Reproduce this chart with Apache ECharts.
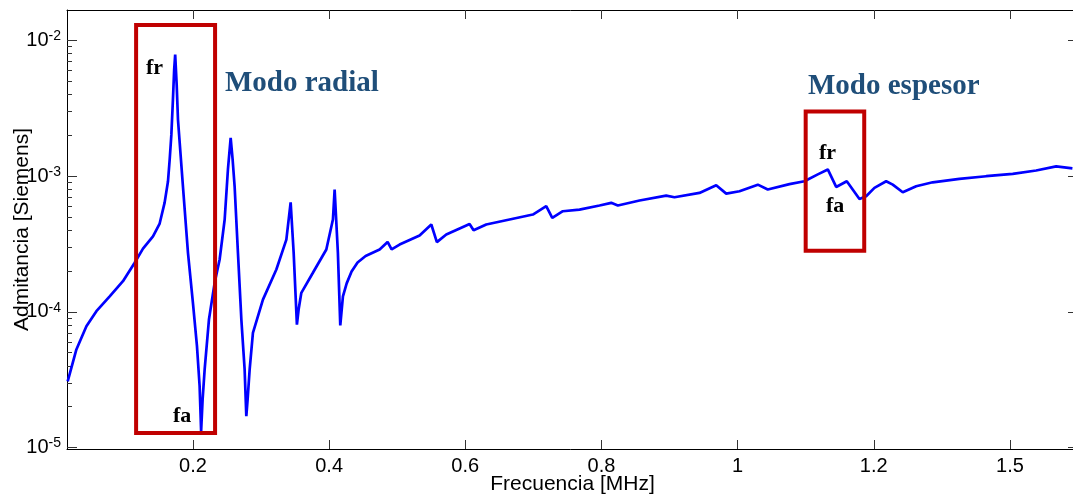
<!DOCTYPE html>
<html>
<head>
<meta charset="utf-8">
<title>Admitancia vs Frecuencia</title>
<script src="https://cdn.jsdelivr.net/npm/echarts@6/dist/echarts.min.js"></script>
<style>
  html, body { margin: 0; padding: 0; background: #fff; }
  #chart { width: 1073px; height: 496px; }
</style>
</head>
<body>
<div id="chart"></div>
<script>
// Measured admittance magnitude of the piezoelectric disc
const freqMHz = [
  0.016, 0.0288, 0.0435, 0.0582, 0.0777, 0.0972, 0.1144, 0.1266, 0.1413, 0.1511,
  0.1584, 0.1633, 0.1658, 0.1683, 0.1706, 0.1724, 0.1739, 0.1761, 0.1780, 0.1853,
  0.1927, 0.2000, 0.2059, 0.2098, 0.2120, 0.2142, 0.2172, 0.2235, 0.2319, 0.2392,
  0.2466, 0.2514, 0.2554, 0.2583, 0.2612, 0.2661, 0.2711, 0.2759, 0.2784, 0.2803,
  0.2833, 0.2881, 0.3028, 0.3225, 0.3372, 0.3435, 0.3479, 0.3527, 0.3552, 0.3592,
  0.3762, 0.3959, 0.4056, 0.4081, 0.4129, 0.4164, 0.4203, 0.4258, 0.4330, 0.4418,
  0.4536, 0.4742, 0.4859, 0.4918, 0.5035, 0.5329, 0.5501, 0.5583, 0.5721, 0.6015,
  0.6063, 0.6122, 0.6308, 0.6651, 0.6993, 0.7189, 0.7278, 0.7433, 0.7678, 0.7972,
  0.8144, 0.8241, 0.8560, 0.8951, 0.9073, 0.9440, 0.9686, 0.9833, 1.0028, 1.0297,
  1.0443, 1.0762, 1.0982, 1.1178, 1.1325, 1.1448, 1.1604, 1.1790, 1.1888, 1.2010,
  1.2182, 1.2279, 1.2426, 1.2623, 1.2866, 1.3258, 1.3651, 1.4041, 1.4385, 1.4679,
  1.4918
];
const admitanciaS = [
  3.07e-5, 5.28e-5, 7.83e-5, 1.01e-4, 1.30e-4, 1.68e-4, 2.30e-4, 2.92e-4, 3.60e-4, 4.47e-4,
  6.38e-4, 9.12e-4, 1.32e-3, 2.02e-3, 3.66e-3, 6.08e-3, 7.85e-3, 4.72e-3, 2.61e-3, 8.41e-4,
  2.72e-4, 1.16e-4, 5.58e-5, 2.83e-5, 1.32e-5, 2.26e-5, 3.76e-5, 8.77e-5, 1.64e-4, 2.43e-4,
  4.79e-4, 1.12e-3, 1.91e-3, 1.32e-3, 8.41e-4, 2.72e-4, 8.77e-5, 3.76e-5, 1.70e-5, 2.26e-5,
  3.76e-5, 7.00e-5, 1.23e-4, 2.05e-4, 3.40e-4, 6.41e-4, 2.74e-4, 8.05e-5, 1.04e-4, 1.38e-4,
  1.94e-4, 2.88e-4, 4.79e-4, 7.96e-4, 2.72e-4, 7.93e-5, 1.30e-4, 1.62e-4, 1.98e-4, 2.31e-4,
  2.58e-4, 2.88e-4, 3.27e-4, 2.88e-4, 3.13e-4, 3.65e-4, 4.40e-4, 3.26e-4, 3.71e-4, 4.33e-4,
  4.44e-4, 3.99e-4, 4.40e-4, 4.79e-4, 5.21e-4, 6.00e-4, 4.92e-4, 5.51e-4, 5.66e-4, 6.07e-4,
  6.35e-4, 6.07e-4, 6.61e-4, 7.18e-4, 6.98e-4, 7.52e-4, 8.55e-4, 7.43e-4, 7.73e-4, 8.65e-4,
  7.96e-4, 8.73e-4, 9.16e-4, 1.03e-3, 1.12e-3, 8.32e-4, 9.16e-4, 6.79e-4, 7.10e-4, 8.19e-4,
  9.16e-4, 8.65e-4, 7.60e-4, 8.41e-4, 9.00e-4, 9.53e-4, 9.98e-4, 1.04e-3, 1.10e-3, 1.18e-3,
  1.14e-3
];

// Axis ticks
const xTickValues = [0.2, 0.4, 0.6, 0.8, 1.0, 1.2, 1.4];
const xTickLabels = ['0.2', '0.4', '0.6', '0.8', '1', '1.2', '1.5'];
const yMajorTicks = [1e-5, 1e-4, 1e-3, 1e-2];
const yMinorTicks = [];
for (let e = -5; e <= -3; e++) {
  for (let m = 2; m <= 9; m++) yMinorTicks.push(+(m * Math.pow(10, e)).toPrecision(3));
}

// Highlighted regions: [xFrom, xTo, yFrom, yTo]
const boxRadial = [0.1165, 0.2325, 1.28e-5, 1.30e-2];
const boxEspesor = [1.100, 1.186, 2.82e-4, 2.99e-3];

const X_MIN = 0.015, X_MAX = 1.5;
const Y_MIN = Math.pow(10, -5.011), Y_MAX = Math.pow(10, -1.776);

const SANS = '"Liberation Sans", Arial, sans-serif';
const SERIF = '"Liberation Serif", "Times New Roman", serif';

const chart = echarts.init(document.getElementById('chart'), null, { renderer: 'canvas' });

const tickStyle = { color: '#333', width: 1 };
const axisLineStyle = { color: '#000', width: 1 };

function boxArea(b) {
  return [{ coord: [b[0], b[3]] }, { coord: [b[1], b[2]] }];
}

chart.setOption({
  animation: false,
  backgroundColor: '#fff',
  grid: { left: 67, top: 10, width: 1011, height: 439, containLabel: false, outerBoundsMode: 'none' },
  xAxis: [
    {
      type: 'value', position: 'bottom', min: X_MIN, max: X_MAX,
      name: 'Frecuencia [MHz]', nameLocation: 'middle', nameGap: 25, nameMoveOverlap: false,
      nameTextStyle: { fontFamily: SANS, fontSize: 21, color: '#000' },
      axisLine: { show: true, lineStyle: axisLineStyle },
      axisTick: { show: true, inside: true, length: 9, lineStyle: tickStyle, customValues: xTickValues },
      axisLabel: {
        show: true, margin: 7, fontFamily: SANS, fontSize: 20, color: '#000',
        customValues: xTickValues,
        formatter: v => {
          const i = xTickValues.findIndex(t => Math.abs(t - v) < 1e-6);
          return i >= 0 ? xTickLabels[i] : '';
        }
      },
      splitLine: { show: false }
    },
    {
      type: 'value', position: 'top', min: X_MIN, max: X_MAX,
      axisLine: { show: true, lineStyle: axisLineStyle },
      axisTick: { show: true, inside: true, length: 9, lineStyle: tickStyle, customValues: xTickValues },
      axisLabel: { show: false },
      splitLine: { show: false }
    }
  ],
  yAxis: [
    {
      type: 'log', logBase: 10, position: 'left', min: Y_MIN, max: Y_MAX,
      name: 'Admitancia [Siemens]', nameLocation: 'middle', nameGap: 34, nameMoveOverlap: false,
      nameTextStyle: { fontFamily: SANS, fontSize: 21, color: '#000' },
      axisLine: { show: true, lineStyle: axisLineStyle },
      axisTick: { show: true, inside: true, length: 10, lineStyle: tickStyle, customValues: yMajorTicks },
      axisLabel: {
        show: true, margin: 6, customValues: yMajorTicks,
        formatter: v => '{b|10}{s|' + Math.round(Math.log10(v)) + '}',
        rich: {
          b: { fontFamily: SANS, fontSize: 20, color: '#000', lineHeight: 22 },
          s: { fontFamily: SANS, fontSize: 14, color: '#000', verticalAlign: 'top', padding: [0, 0, 5, 0] }
        }
      },
      splitLine: { show: false }
    },
    {
      type: 'log', logBase: 10, position: 'right', min: Y_MIN, max: Y_MAX,
      axisLine: { show: true, lineStyle: axisLineStyle },
      axisTick: { show: true, inside: true, length: 10, lineStyle: tickStyle, customValues: yMajorTicks },
      axisLabel: { show: false },
      splitLine: { show: false }
    },
    {
      type: 'log', logBase: 10, position: 'left', min: Y_MIN, max: Y_MAX,
      axisLine: { show: false },
      axisTick: { show: true, inside: true, length: 5, lineStyle: tickStyle, customValues: yMinorTicks },
      axisLabel: { show: false },
      splitLine: { show: false }
    }
  ],
  series: [
    {
      type: 'line',
      xAxisIndex: 0, yAxisIndex: 0,
      data: freqMHz.map((f, i) => [f, admitanciaS[i]]),
      showSymbol: false, symbol: 'none', smooth: false,
      lineStyle: { color: '#0000FF', width: 2.7 },
      z: 2,
      markArea: {
        silent: true,
        z: 4,
        itemStyle: { color: 'rgba(0,0,0,0)', borderColor: '#C00000', borderWidth: 4 },
        label: { show: false },
        data: [boxArea(boxRadial), boxArea(boxEspesor)]
      }
    }
  ],
  graphic: [
    { type: 'text', x: 225, y: 84, z: 10, style: { text: 'Modo radial', font: 'bold 29px ' + SERIF, fill: '#1F4E79', align: 'left', verticalAlign: 'middle' } },
    { type: 'text', x: 808, y: 87, z: 10, style: { text: 'Modo espesor', font: 'bold 29px ' + SERIF, fill: '#1F4E79', align: 'left', verticalAlign: 'middle' } },
    { type: 'text', x: 146, y: 68, z: 10, style: { text: 'fr', font: 'bold 22px ' + SERIF, fill: '#000', align: 'left', verticalAlign: 'middle' } },
    { type: 'text', x: 173, y: 416, z: 10, style: { text: 'fa', font: 'bold 22px ' + SERIF, fill: '#000', align: 'left', verticalAlign: 'middle' } },
    { type: 'text', x: 819, y: 153, z: 10, style: { text: 'fr', font: 'bold 22px ' + SERIF, fill: '#000', align: 'left', verticalAlign: 'middle' } },
    { type: 'text', x: 826, y: 206, z: 10, style: { text: 'fa', font: 'bold 22px ' + SERIF, fill: '#000', align: 'left', verticalAlign: 'middle' } }
  ]
});
</script>
</body>
</html>
